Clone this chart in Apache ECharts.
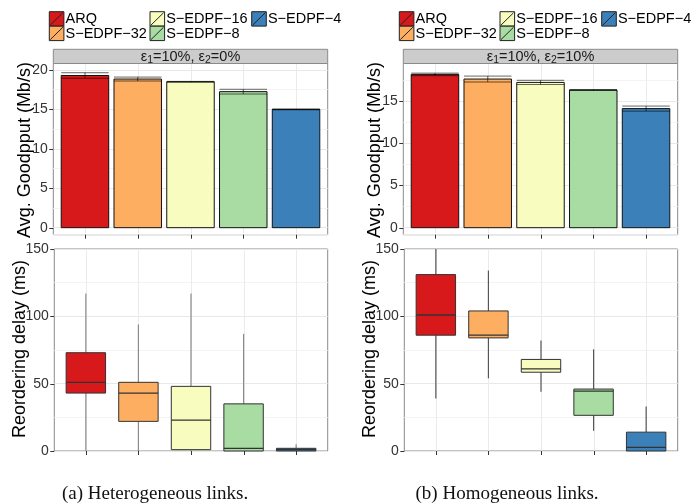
<!DOCTYPE html>
<html><head><meta charset="utf-8">
<script src="https://cdn.jsdelivr.net/npm/echarts@6/dist/echarts.min.js"></script>
<style>html,body{margin:0;padding:0;background:#fff}#c{width:694px;height:504px}</style>
</head><body><div id="c"></div>
<script>
// ---------- data ----------
const categories = ['ARQ', 'S−EDPF−32', 'S−EDPF−16', 'S−EDPF−8', 'S−EDPF−4'];
const colors = ['#d7191c', '#fdae61', '#f9fcbf', '#a8dca2', '#3b80b9'];
const hetGoodput   = [19.3, 18.85, 18.5, 17.25, 15.0];
const hetGoodputSd = [0.35, 0.25, 0.05, 0.3, 0.05];
const homGoodput   = [18.15, 17.6, 17.2, 16.3, 14.1];
const homGoodputSd = [0.15, 0.35, 0.25, 0.05, 0.3];
// [low whisker, Q1, median, Q3, high whisker]
const hetDelay = [[0, 43, 51, 73, 117], [0, 22, 43, 51, 94], [0, 1, 23, 48, 117], [0, 0, 2, 35, 87], [0, 0, 1, 2, 5]];
const homDelay = [[39, 86, 101, 131, 150], [54, 84, 86, 104, 134], [44, 58.5, 61, 68, 82], [15, 26.5, 44.5, 46, 75.5], [0, 0, 2.7, 14, 33]];
const hetGoodputTicks = [0, 5, 10, 15, 20];
const homGoodputTicks = [0, 5, 10, 15];
const delayTicks = [0, 50, 100, 150];
const stripEps = [['10%', '0%'], ['10%', '10%']];
const captions = ['(a) Heterogeneous links.', '(b) Homogeneous links.'];
const yTitleTop = 'Avg. Goodpput (Mb/s)';
const yTitleBottom = 'Reordering delay (ms)';

// ---------- layout ----------
const FONT = 'Liberation Sans, Arial, sans-serif';
const cols = [
  { dx: 0,   gp: hetGoodput, sd: hetGoodputSd, gTicks: hetGoodputTicks, gMin: -0.89, gMax: 20.82, box: hetDelay, whisk: '#8a8a8a' },
  { dx: 350, gp: homGoodput, sd: homGoodputSd, gTicks: homGoodputTicks, gMin: -0.83, gMax: 19.44, box: homDelay, whisk: '#555555' }
];

const grids = [], xAxes = [], yAxes = [], series = [], graphics = [];

function addFrame(gi, yMin, yMax, ticks) {
  series.push({
    type: 'custom', xAxisIndex: gi, yAxisIndex: gi, z: 1, silent: true,
    data: categories.map((c, i) => [i + 1, yMin]),
    renderItem: (p, api) => {
      const x = api.value(0);
      const t = api.coord([x, yMax]), b = api.coord([x, yMin]);
      const px = Math.round(t[0]) + 0.5;
      return { type: 'group', children: [
        { type: 'line', shape: { x1: px, y1: t[1], x2: px, y2: b[1] }, style: { stroke: '#ebebeb', lineWidth: 1 } },
        { type: 'line', shape: { x1: px, y1: b[1], x2: px, y2: b[1] + 4 }, style: { stroke: '#333', lineWidth: 1 } }
      ]};
    }
  });
  series.push({
    type: 'custom', xAxisIndex: gi, yAxisIndex: gi, z: 1, silent: true,
    data: ticks.map(v => [0.4, v]),
    renderItem: (p, api) => {
      const c = api.coord([api.value(0), api.value(1)]);
      const py = Math.round(c[1]) + 0.5;
      return { type: 'line', shape: { x1: c[0] - 4, y1: py, x2: c[0], y2: py }, style: { stroke: '#333', lineWidth: 1 } };
    }
  });
}

function yAxis(gi, min, max, ticks, interval) {
  const a = {
    type: 'value', gridIndex: gi, min, max,
    axisLine: { show: false }, axisTick: { show: false },
    axisLabel: { margin: 5.5, fontSize: 14, color: '#333', fontFamily: FONT,
      formatter: v => ticks.some(t => Math.abs(t - v) < 1e-6) ? String(Math.round(v)) : '' },
    splitLine: { lineStyle: { color: '#e8e8e8', width: 1 } },
    minorTick: { show: false, splitNumber: 2 },
    minorSplitLine: { show: true, lineStyle: { color: '#f4f4f4', width: 1 } }
  };
  if (interval) a.interval = interval;
  return a;
}

const legendPos = [[0, 0], [0, 1], [1, 0], [1, 1], [2, 0]]; // [col,row] for ARQ,-32,-16,-8,-4
const colX = [49.3, 150, 251.7];

cols.forEach((c, ci) => {
  const gTop = ci * 2, gBot = ci * 2 + 1;
  grids.push({ left: 53.3 + c.dx, top: 63.5, width: 274.4, height: 171.2, show: true, borderColor: '#8a8a8a', borderWidth: 1, backgroundColor: 'transparent' });
  grids.push({ left: 54.3 + c.dx, top: 249, width: 273.4, height: 202, show: true, borderColor: '#8a8a8a', borderWidth: 1, backgroundColor: 'transparent' });
  [gTop, gBot].forEach(g => xAxes.push({ type: 'value', gridIndex: g, min: 0.4, max: 5.6, show: false, splitLine: { show: false } }));
  yAxes.push(yAxis(gTop, c.gMin, c.gMax, c.gTicks));
  yAxes.push(yAxis(gBot, 0, 150, delayTicks, 50));

  addFrame(gTop, c.gMin, c.gMax, c.gTicks);
  addFrame(gBot, 0, 150, delayTicks);

  // bars
  series.push({
    type: 'custom', xAxisIndex: gTop, yAxisIndex: gTop, z: 3,
    data: c.gp.map((v, i) => [i + 1, v, i]),
    renderItem: (p, api) => {
      const x = api.value(0), v = api.value(1), i = api.value(2);
      const a = api.coord([x - 0.45, v]), b = api.coord([x + 0.45, 0]);
      return { type: 'rect', shape: { x: a[0], y: a[1], width: b[0] - a[0], height: b[1] - a[1] },
        style: { fill: colors[i], stroke: '#111', lineWidth: 1 } };
    }
  });
  // error bars
  series.push({
    type: 'custom', xAxisIndex: gTop, yAxisIndex: gTop, z: 4,
    data: c.gp.map((v, i) => [i + 1, v - c.sd[i], v + c.sd[i]]),
    renderItem: (p, api) => {
      const x = api.value(0), lo = api.value(1), hi = api.value(2);
      const l1 = api.coord([x - 0.45, lo]), l2 = api.coord([x + 0.45, lo]);
      const h1 = api.coord([x - 0.45, hi]), h2 = api.coord([x + 0.45, hi]);
      const st = { stroke: 'rgba(0,0,0,0.6)', lineWidth: 1 };
      return { type: 'group', children: [
        { type: 'line', shape: { x1: l1[0], y1: l1[1], x2: l2[0], y2: l2[1] }, style: st },
        { type: 'line', shape: { x1: h1[0], y1: h1[1], x2: h2[0], y2: h2[1] }, style: st },
        { type: 'line', shape: { x1: (l1[0] + l2[0]) / 2, y1: l1[1], x2: (h1[0] + h2[0]) / 2, y2: h1[1] }, style: st }
      ]};
    }
  });
  // box plots
  series.push({
    type: 'custom', xAxisIndex: gBot, yAxisIndex: gBot, z: 3,
    data: c.box.map((b, i) => [i + 1, b[0], b[1], b[2], b[3], b[4], i]),
    renderItem: (p, api) => {
      const x = api.value(0), lo = api.value(1), q1 = api.value(2), md = api.value(3), q3 = api.value(4), hi = api.value(5), i = api.value(6);
      const w = 0.375;
      const pHi = api.coord([x, hi]), pQ3 = api.coord([x, q3]), pQ1 = api.coord([x, q1]), pLo = api.coord([x, lo]);
      const a = api.coord([x - w, q3]), b = api.coord([x + w, q1]);
      const m1 = api.coord([x - w, md]), m2 = api.coord([x + w, md]);
      const ws = { stroke: c.whisk, lineWidth: 1.2 };
      return { type: 'group', children: [
        { type: 'line', shape: { x1: pHi[0], y1: pHi[1], x2: pQ3[0], y2: pQ3[1] }, style: ws },
        { type: 'line', shape: { x1: pQ1[0], y1: pQ1[1], x2: pLo[0], y2: pLo[1] }, style: ws },
        { type: 'rect', shape: { x: a[0], y: a[1], width: b[0] - a[0], height: b[1] - a[1] }, style: { fill: colors[i], stroke: '#333', lineWidth: 1 } },
        { type: 'line', shape: { x1: m1[0], y1: m1[1], x2: m2[0], y2: m2[1] }, style: { stroke: '#333', lineWidth: 1.3 } }
      ]};
    }
  });

  // strip
  graphics.push({ type: 'rect', shape: { x: 53.3 + c.dx, y: 49.3, width: 274.4, height: 14.2 }, style: { fill: '#cccccc', stroke: '#8a8a8a', lineWidth: 1 }, z: 10 });
  graphics.push({ type: 'text', x: 190.5 + c.dx, y: 56.6, z: 11, style: {
    text: '{t|ε}{s|1}{t|=' + stripEps[ci][0] + ', ε}{s|2}{t|=' + stripEps[ci][1] + '}',
    align: 'center', verticalAlign: 'middle',
    rich: { t: { fontSize: 14.5, fontFamily: FONT, fill: '#1a1a1a', lineHeight: 18 },
            s: { fontSize: 10.5, fontFamily: FONT, fill: '#1a1a1a', lineHeight: 10, verticalAlign: 'bottom' } }
  }});
  // legend
  categories.forEach((name, i) => {
    const [cc, rr] = legendPos[i];
    const kx = colX[cc] + c.dx, ky = 11.7 + rr * 14.5;
    graphics.push({ type: 'rect', shape: { x: kx, y: ky, width: 14.6, height: 14.4 }, style: { fill: colors[i], stroke: '#222', lineWidth: 1 }, z: 10 });
    graphics.push({ type: 'line', shape: { x1: kx + 1, y1: ky + 13.4, x2: kx + 13.6, y2: ky + 1 }, style: { stroke: '#222', lineWidth: 1 }, z: 11 });
    graphics.push({ type: 'text', x: kx + 16.2, y: ky + 7.4, z: 11, style: { text: name, fontSize: 14.5, fontFamily: FONT, fill: '#000', align: 'left', verticalAlign: 'middle' } });
  });
  // axis titles
  graphics.push({ type: 'text', x: 25 + c.dx, y: 150, rotation: Math.PI / 2, z: 10, style: { text: yTitleTop, fontSize: 18, fontFamily: FONT, fill: '#000', align: 'center', verticalAlign: 'middle' } });
  graphics.push({ type: 'text', x: 20 + c.dx, y: 349, rotation: Math.PI / 2, z: 10, style: { text: yTitleBottom, fontSize: 18, fontFamily: FONT, fill: '#000', align: 'center', verticalAlign: 'middle' } });
  // caption
  graphics.push({ type: 'text', x: 62 + c.dx * 1.01, y: 494, z: 10, style: { text: captions[ci], fontSize: 19, fontFamily: 'Liberation Serif, serif', fill: '#111', align: 'left', verticalAlign: 'middle' } });
});

const chart = echarts.init(document.getElementById('c'), null, { renderer: 'canvas' });
chart.setOption({
  animation: false,
  textStyle: { fontFamily: FONT },
  grid: grids, xAxis: xAxes, yAxis: yAxes, series, graphic: graphics
});
</script></body></html>
